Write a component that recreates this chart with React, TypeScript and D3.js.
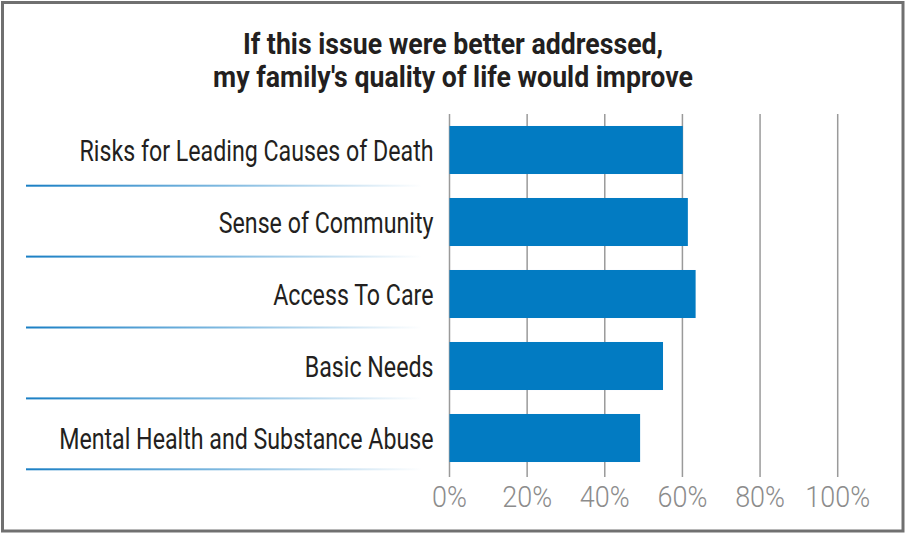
import React from "react";
import * as d3 from "d3";

const categories = [
  "Risks for Leading Causes of Death",
  "Sense of Community",
  "Access To Care",
  "Basic Needs",
  "Mental Health and Substance Abuse",
];
const values = [60.1, 61.4, 63.4, 55.0, 49.1];
const ticks = [0, 20, 40, 60, 80, 100];
const titleLines = [
  "If this issue were better addressed,",
  "my family's quality of life would improve",
];

const W = 905;
const H = 533;

export default function App() {
  const x = d3.scaleLinear().domain([0, 100]).range([449.5, 837.7]);
  const y = d3.scaleBand<string>().domain(categories).range([114, 474]).paddingInner(0.333).paddingOuter(0.1665);
  const sep = d3.scaleBand<string>().domain(categories).range([114.8, 469.3]);
  const labelSX = 0.8;
  const tickSX = 0.93;
  const titleSX = 0.92;

  return (
    <div style={{ position: "absolute", left: 0, top: 0 }}>
      <svg width={W} height={H} style={{ display: "block" }}>
        <defs>
          <linearGradient id="sepGrad" x1="0" x2="1" y1="0" y2="0">
            <stop offset="0" stopColor="#1a7fc4" />
            <stop offset="0.5" stopColor="#7fb9e0" />
            <stop offset="1" stopColor="#ffffff" />
          </linearGradient>
        </defs>
        <rect x={0} y={0} width={W} height={H} fill="#ffffff" />
        <rect x={2.5} y={2.5} width={900.5} height={528.5} fill="none" stroke="#707070" strokeWidth={3} />
        {titleLines.map((t, i) => (
          <text
            key={t}
            transform={`translate(453,${53.5 + i * 33}) scale(${titleSX},1)`}
            textAnchor="middle"
            fontFamily="Roboto, 'Open Sans', sans-serif"
            fontWeight={700}
            fontSize={29}
            fill="#231f20"
          >
            {t}
          </text>
        ))}
        {ticks.map((t) => (
          <line key={"g" + t} x1={x(t)} x2={x(t)} y1={114} y2={477} stroke="#9a9a9a" strokeWidth={1.5} />
        ))}
        {categories.map((c, i) => (
          <rect key={"b" + c} x={x(0)} y={y(c)!} width={x(values[i]) - x(0)} height={y.bandwidth()} fill="#027bc2" />
        ))}
        {categories.map((c) => (
          <rect
            key={"s" + c}
            x={26}
            y={sep(c)! + sep.step() - 1}
            width={396}
            height={2}
            fill="url(#sepGrad)"
          />
        ))}
        {categories.map((c) => (
          <text
            key={"l" + c}
            transform={`translate(433.5,${y(c)! + y.bandwidth() / 2 + 10.7}) scale(${labelSX},1)`}
            textAnchor="end"
            fontFamily="Roboto, sans-serif"
            fontWeight={400}
            fontSize={29}
            fill="#231f20"
          >
            {c}
          </text>
        ))}
        {ticks.map((t) => (
          <text
            key={"t" + t}
            transform={`translate(${x(t)},506.7) scale(${tickSX},1)`}
            textAnchor="middle"
            fontFamily="Roboto, sans-serif"
            fontWeight={300}
            fontSize={29}
            fill="#8c8c8c"
          >
            {t + "%"}
          </text>
        ))}
      </svg>
    </div>
  );
}
